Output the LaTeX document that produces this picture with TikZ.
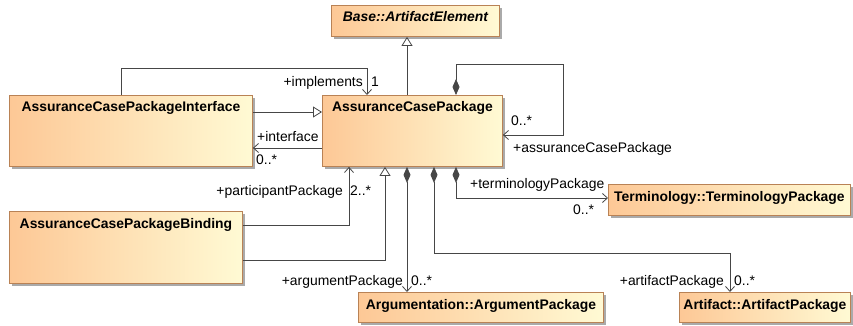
\documentclass[tikz,border=0pt]{standalone}
\usepackage{fontspec}
\setmainfont{Liberation Sans}
\usetikzlibrary{arrows.meta,shadows}
\definecolor{boxL}{RGB}{253,200,150}
\definecolor{boxR}{RGB}{255,250,212}
\definecolor{boxB}{RGB}{185,130,85}
\definecolor{lineC}{RGB}{70,70,70}
\definecolor{shadowC}{RGB}{170,170,170}
\newcommand\dgfont{\fontsize{13.9}{16}\selectfont}
\tikzset{
 cls/.style={draw=boxB, line width=0.9pt, left color=boxL, right color=boxR, inner sep=0pt, anchor=north west,
   drop shadow={shadow xshift=3pt, shadow yshift=-3pt, fill=shadowC, opacity=1}},
 clsname/.style={font=\dgfont\bfseries, anchor=base, inner sep=0pt},
 lbl/.style={font=\dgfont, inner sep=0pt, anchor=base west},
 lblr/.style={font=\dgfont, inner sep=0pt, anchor=base east},
 conn/.style={draw=lineC, line width=0.8pt},
 nav/.style={conn, -{Straight Barb[length=5pt,width=9pt]}},
 gen/.style={conn, -{Triangle[open, length=9pt, width=11pt, fill=white]}},
 comp/.style={conn, {Diamond[length=16pt, width=7pt, fill=lineC]}-{Straight Barb[length=5pt,width=9pt]}},
}
\newcommand\myclassbox[7]{%
  \node[cls, minimum width=#4pt, minimum height=#5pt] (#1) at (#2,#3) {};
  \node[clsname, font=\dgfont#7] (#1T) at ([yshift=-17pt]#1.north) {#6};
}
\begin{document}
\begin{tikzpicture}[x=1pt, y=-1pt]
\useasboundingbox (0,0) rectangle (853,326);
\myclassbox{base}{331}{5}{168}{31}{Base::ArtifactElement}{\bfseries\itshape}
\myclassbox{acp}{322}{95}{180}{71}{AssuranceCasePackage}{\bfseries}
\myclassbox{acpi}{9}{95}{243}{71}{AssuranceCasePackageInterface}{\bfseries}
\myclassbox{acpb}{9}{211}{233}{72}{AssuranceCasePackageBinding}{\bfseries}
\myclassbox{term}{608}{184}{242}{31}{Terminology::TerminologyPackage}{\bfseries}
\myclassbox{arg}{358}{292}{245}{30}{Argumentation::ArgumentPackage}{\bfseries}
\myclassbox{art}{679}{292}{171}{30}{Artifact::ArtifactPackage}{\bfseries}

% implements
\draw[nav] ([xshift=112pt]acpi.north west) -- ++(0,-27) -| ([xshift=45pt]acp.north west);
% realization
\draw[gen] ([yshift=-17pt]acpi.north east) -- ([yshift=-17pt]acp.north west);
% interface
\draw[nav] ([yshift=-53pt]acp.north west) -- ([yshift=-53pt]acpi.north east);
% generalization to base
\coordinate (g1) at ([xshift=85pt]acp.north west);
\draw[gen] (g1) -- (g1 |- base.south);
% self association
\draw[comp] ([xshift=134pt]acp.north west) -- ++(0,-31) -- ++(107,0) |- ([yshift=-40pt]acp.north east);
% participant
\draw[nav] ([yshift=-14pt]acpb.north east) -| ([xshift=27pt]acp.south west);
% binding generalization
\draw[gen] ([yshift=-49pt]acpb.north east) -| ([xshift=63pt]acp.south west);
% argument
\coordinate (c1) at ([xshift=85pt]acp.south west);
\draw[comp] (c1) -- (c1 |- arg.north);
% artifact
\coordinate (c2) at ([xshift=112pt]acp.south west);
\coordinate (c3) at ([xshift=51pt]art.north west);
\draw[comp] (c2) -- ++(0,86) -| (c3);
% terminology
\draw[comp] ([xshift=134pt]acp.south west) |- ([yshift=-14pt]term.north west);

% labels
\node[lblr] (limp) at (363,87) {+implements};
\node[lbl] (limpm) at (371,87) {1};
\node[lbl] (lint) at (257,141) {+interface};
\node[lbl] (lintm) at (256,164) {0..*};
\node[lbl] (lselfm) at (511,125) {0..*};
\node[lbl] (lself) at (513,152) {+assuranceCasePackage};
\node[lblr] (lpart) at (343,195) {+participantPackage};
\node[lbl] (lpartm) at (350,195) {2..*};
\node[lblr] (larg) at (403,285) {+argumentPackage};
\node[lbl] (largm) at (411,285) {0..*};
\node[lbl] (lterm) at (470,188) {+terminologyPackage};
\node[lbl] (ltermm) at (573,214) {0..*};
\node[lblr] (lart) at (724,285) {+artifactPackage};
\node[lbl] (lartm) at (734,285) {0..*};
\end{tikzpicture}
\end{document}
